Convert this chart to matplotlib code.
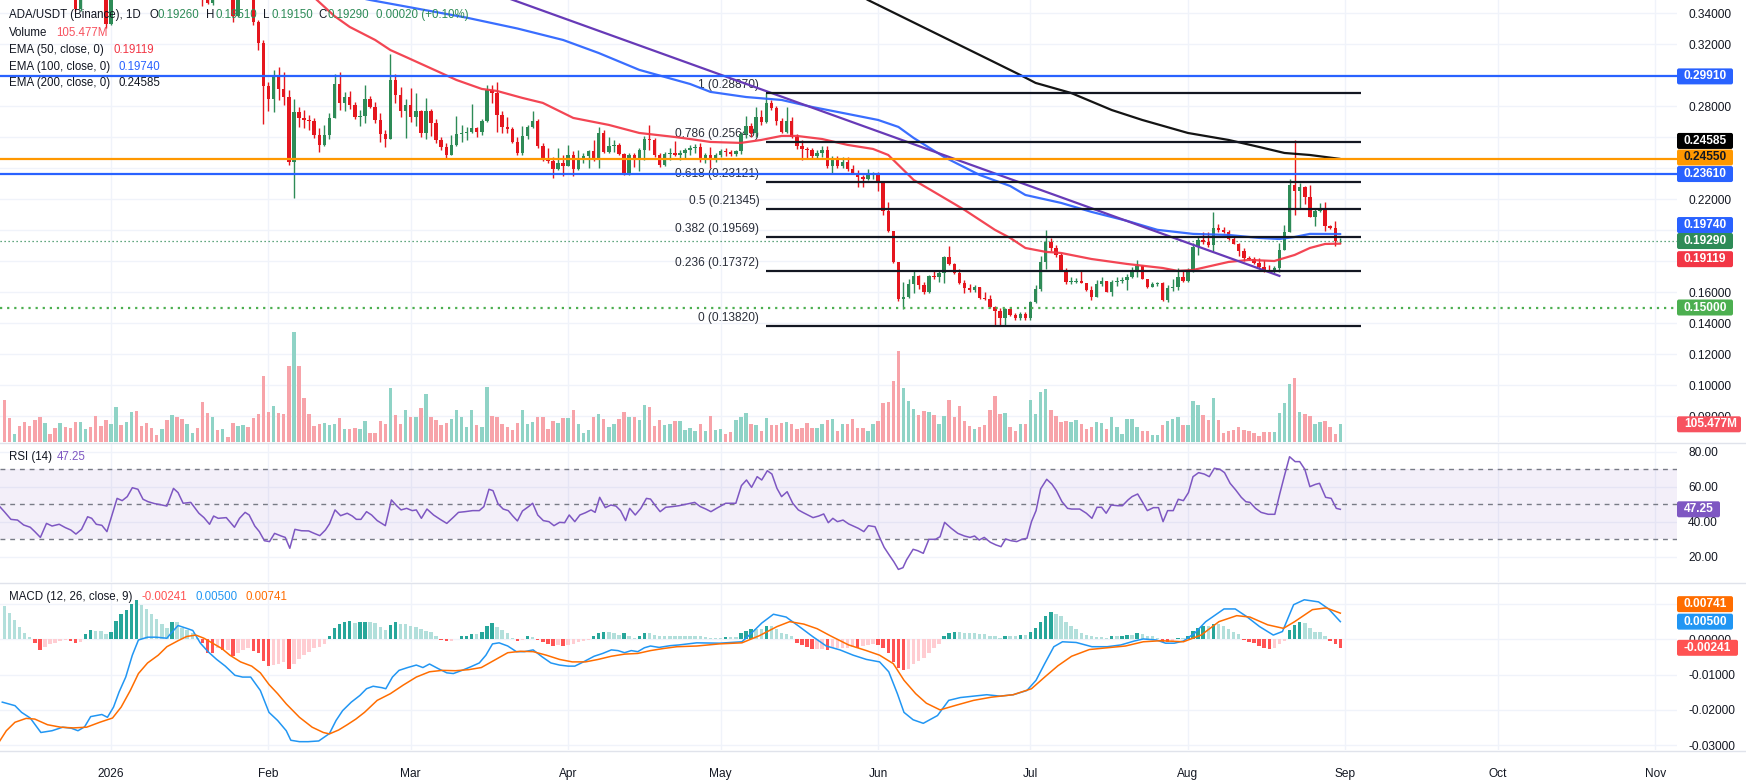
import numpy as np
import pandas as pd
import matplotlib
matplotlib.use("Agg")
import matplotlib.pyplot as plt
from matplotlib.patches import FancyBboxPatch
from matplotlib.transforms import IdentityTransform
from matplotlib.lines import Line2D

plt.rcParams['font.family'] = ['Liberation Sans', 'DejaVu Sans']

# ------------------------------------------------------------------ data
START_DATE = '2025-12-11'          # first daily candle
FIRST_OPEN = 0.398

closes = [
    0.392, 0.385, 0.388, 0.378, 0.376, 0.373, 0.370, 0.362, 0.368, 0.366,
    0.364, 0.367, 0.361, 0.358, 0.3424, 0.352, 0.365, 0.363, 0.358, 0.356,
    0.3329, 0.352, 0.372, 0.370, 0.378, 0.392, 0.390, 0.384, 0.383, 0.381,
    0.380, 0.383, 0.378, 0.398, 0.394, 0.382, 0.383, 0.386, 0.370, 0.362,
    0.3465, 0.366, 0.364, 0.367, 0.362, 0.3381, 0.356, 0.362, 0.358, 0.3342,
    0.3206, 0.2929, 0.2845, 0.2994, 0.2910, 0.2858, 0.2439, 0.2762, 0.2723, 0.2710,
    0.2704, 0.2613, 0.2549, 0.2613, 0.2723, 0.2942, 0.2820, 0.2858, 0.2807, 0.2729,
    0.2736, 0.2845, 0.2794, 0.2710, 0.2620, 0.2587, 0.2968, 0.2871, 0.2768, 0.2807,
    0.2729, 0.2768, 0.2626, 0.2768, 0.2691, 0.2581, 0.2536, 0.2484, 0.2549, 0.2620,
    0.2626, 0.2633, 0.2658, 0.2633, 0.2704, 0.2903, 0.2884, 0.2742, 0.2665, 0.2652,
    0.2568, 0.2497, 0.2607, 0.2665, 0.2704, 0.2542, 0.2452, 0.2446, 0.2394, 0.2433,
    0.2413, 0.2484, 0.2394, 0.2465, 0.2478, 0.2510, 0.2452, 0.2626, 0.2504, 0.2542,
    0.2546, 0.2491, 0.2362, 0.2484, 0.2465, 0.2516, 0.2587, 0.2581, 0.2484, 0.2420,
    0.2491, 0.2497, 0.2484, 0.2497, 0.2516, 0.2529, 0.2536, 0.2465, 0.2484, 0.2452,
    0.2484, 0.2510, 0.2504, 0.2491, 0.2510, 0.2620, 0.2671, 0.2626, 0.2729, 0.2697,
    0.2820, 0.2787, 0.2704, 0.2633, 0.2704, 0.2600, 0.2542, 0.2523, 0.2516, 0.2478,
    0.2497, 0.2516, 0.2413, 0.2459, 0.2413, 0.2439, 0.2394, 0.2368, 0.2342, 0.2329,
    0.2362, 0.2368, 0.2310, 0.2123, 0.1994, 0.1794, 0.1555, 0.1568, 0.1652, 0.1704,
    0.1646, 0.1601, 0.1704, 0.1697, 0.1723, 0.1826, 0.1781, 0.1723, 0.1659, 0.1627,
    0.1613, 0.1633, 0.1562, 0.1555, 0.1504, 0.1478, 0.1433, 0.1491, 0.1452, 0.1433,
    0.1459, 0.1433, 0.1536, 0.1620, 0.1794, 0.1923, 0.1884, 0.1839, 0.1736, 0.1665,
    0.1665, 0.1668, 0.1659, 0.1613, 0.1568, 0.1652, 0.1672, 0.1601, 0.1665, 0.1672,
    0.1678, 0.1697, 0.1742, 0.1768, 0.1684, 0.1633, 0.1652, 0.1659, 0.1549, 0.1627,
    0.1633, 0.1697, 0.1672, 0.1736, 0.1891, 0.1936, 0.1923, 0.1904, 0.2013, 0.2001,
    0.1988, 0.1942, 0.1910, 0.1865, 0.1820, 0.1813, 0.1788, 0.1762, 0.1742, 0.1736,
    0.1755, 0.1872, 0.1988, 0.2291, 0.2252, 0.2278, 0.2213, 0.2084, 0.2123, 0.2142,
    0.2026, 0.2013, 0.1927, 0.1929,
]

highs = [
    0.402, 0.395, 0.392, 0.386, 0.382, 0.379, 0.376, 0.372, 0.371, 0.371,
    0.369, 0.370, 0.366, 0.363, 0.360, 0.355, 0.368, 0.368, 0.365, 0.361,
    0.358, 0.355, 0.376, 0.378, 0.382, 0.398, 0.399, 0.393, 0.388, 0.387,
    0.384, 0.387, 0.383, 0.403, 0.401, 0.396, 0.387, 0.389, 0.388, 0.372,
    0.364, 0.369, 0.370, 0.370, 0.367, 0.364, 0.359, 0.366, 0.365, 0.362,
    0.3355, 0.3226, 0.2955, 0.3032, 0.3052, 0.3020, 0.2903, 0.2845, 0.2794, 0.2774,
    0.2742, 0.2723, 0.2658, 0.2678, 0.2755, 0.3007, 0.3020, 0.2891, 0.2897, 0.2826,
    0.2774, 0.2936, 0.2865, 0.2826, 0.2755, 0.2645, 0.3136, 0.3007, 0.2923, 0.2845,
    0.2916, 0.2884, 0.2774, 0.2852, 0.2781, 0.2716, 0.2600, 0.2562, 0.2613, 0.2736,
    0.2678, 0.2665, 0.2813, 0.2665, 0.2716, 0.2936, 0.2936, 0.2955, 0.2768, 0.2729,
    0.2665, 0.2600, 0.2671, 0.2678, 0.2768, 0.2716, 0.2562, 0.2529, 0.2471, 0.2529,
    0.2484, 0.2549, 0.2510, 0.2516, 0.2497, 0.2516, 0.2581, 0.2665, 0.2645, 0.2600,
    0.2581, 0.2562, 0.2497, 0.2497, 0.2497, 0.2529, 0.2607, 0.2678, 0.2594, 0.2497,
    0.2504, 0.2529, 0.2575, 0.2516, 0.2529, 0.2549, 0.2552, 0.2562, 0.2495, 0.2536,
    0.2495, 0.2520, 0.2529, 0.2516, 0.2516, 0.2633, 0.2736, 0.2690, 0.2794, 0.2774,
    0.2887, 0.2839, 0.2800, 0.2723, 0.2794, 0.2729, 0.2620, 0.2581, 0.2536, 0.2529,
    0.2516, 0.2542, 0.2542, 0.2478, 0.2478, 0.2471, 0.2471, 0.2420, 0.2387, 0.2355,
    0.2394, 0.2375, 0.2375, 0.2310, 0.2181, 0.1994, 0.1794, 0.1665, 0.1684, 0.1743,
    0.1710, 0.1665, 0.1710, 0.1743, 0.1736, 0.1833, 0.1897, 0.1790, 0.1749, 0.1678,
    0.1652, 0.1646, 0.1633, 0.1601, 0.1581, 0.1510, 0.1497, 0.1497, 0.1504, 0.1465,
    0.1472, 0.1468, 0.1543, 0.1646, 0.1833, 0.2000, 0.1949, 0.1904, 0.1852, 0.1755,
    0.1697, 0.1690, 0.1742, 0.1659, 0.1639, 0.1678, 0.1697, 0.1659, 0.1678, 0.1697,
    0.1697, 0.1717, 0.1762, 0.1807, 0.1775, 0.1684, 0.1665, 0.1665, 0.1665, 0.1646,
    0.1684, 0.1755, 0.1742, 0.1755, 0.1917, 0.1955, 0.1988, 0.1988, 0.2117, 0.2039,
    0.2020, 0.2001, 0.1955, 0.1917, 0.1884, 0.1833, 0.1826, 0.1820, 0.1807, 0.1775,
    0.1768, 0.1917, 0.2033, 0.2329, 0.2581, 0.2304, 0.2284, 0.2291, 0.2136, 0.2175,
    0.2181, 0.2033, 0.2059, 0.1951,
]

lows = [
    0.388, 0.382, 0.378, 0.375, 0.371, 0.369, 0.366, 0.358, 0.360, 0.362,
    0.362, 0.362, 0.357, 0.354, 0.3410, 0.3415, 0.351, 0.359, 0.355, 0.352,
    0.3303, 0.3320, 0.350, 0.366, 0.368, 0.376, 0.385, 0.380, 0.379, 0.377,
    0.376, 0.375, 0.372, 0.376, 0.389, 0.379, 0.378, 0.380, 0.366, 0.3445,
    0.3460, 0.3450, 0.360, 0.359, 0.357, 0.3340, 0.3375, 0.353, 0.352, 0.3320,
    0.3162, 0.2684, 0.2768, 0.2762, 0.2839, 0.2807, 0.2420, 0.2207, 0.2665, 0.2658,
    0.2645, 0.2594, 0.2504, 0.2542, 0.2587, 0.2723, 0.2774, 0.2768, 0.2781, 0.2716,
    0.2671, 0.2691, 0.2787, 0.2691, 0.2568, 0.2536, 0.2587, 0.2820, 0.2729, 0.2594,
    0.2697, 0.2671, 0.2600, 0.2587, 0.2607, 0.2562, 0.2516, 0.2465, 0.2484, 0.2542,
    0.2568, 0.2581, 0.2626, 0.2600, 0.2613, 0.2697, 0.2820, 0.2633, 0.2626, 0.2626,
    0.2562, 0.2484, 0.2484, 0.2587, 0.2658, 0.2529, 0.2446, 0.2433, 0.2336, 0.2387,
    0.2349, 0.2413, 0.2349, 0.2387, 0.2433, 0.2400, 0.2446, 0.2400, 0.2497, 0.2497,
    0.2504, 0.2484, 0.2355, 0.2355, 0.2407, 0.2381, 0.2452, 0.2516, 0.2471, 0.2407,
    0.2413, 0.2452, 0.2478, 0.2452, 0.2465, 0.2484, 0.2497, 0.2439, 0.2430, 0.2400,
    0.2440, 0.2470, 0.2478, 0.2478, 0.2478, 0.2490, 0.2594, 0.2600, 0.2600, 0.2680,
    0.2691, 0.2774, 0.2678, 0.2626, 0.2626, 0.2594, 0.2523, 0.2452, 0.2458, 0.2465,
    0.2465, 0.2471, 0.2400, 0.2362, 0.2400, 0.2400, 0.2381, 0.2362, 0.2278, 0.2278,
    0.2323, 0.2329, 0.2252, 0.2097, 0.1990, 0.1790, 0.1543, 0.1491, 0.1560, 0.1594,
    0.1620, 0.1588, 0.1595, 0.1684, 0.1665, 0.1659, 0.1775, 0.1717, 0.1652, 0.1594,
    0.1601, 0.1601, 0.1555, 0.1549, 0.1497, 0.1388, 0.1388, 0.1385, 0.1446, 0.1420,
    0.1420, 0.1420, 0.1420, 0.1530, 0.1607, 0.1749, 0.1865, 0.1826, 0.1736, 0.1652,
    0.1652, 0.1659, 0.1657, 0.1607, 0.1549, 0.1568, 0.1639, 0.1601, 0.1575, 0.1639,
    0.1659, 0.1613, 0.1691, 0.1697, 0.1684, 0.1627, 0.1633, 0.1639, 0.1543, 0.1536,
    0.1607, 0.1613, 0.1665, 0.1665, 0.1730, 0.1839, 0.1910, 0.1891, 0.1865, 0.1988,
    0.1981, 0.1936, 0.1910, 0.1833, 0.1801, 0.1807, 0.1781, 0.1755, 0.1730, 0.1730,
    0.1723, 0.1730, 0.1872, 0.1988, 0.2097, 0.2136, 0.2168, 0.2084, 0.2026, 0.2117,
    0.1994, 0.2007, 0.1895, 0.1915,
]

volumes_m = [
    249, 143, 46, 94, 117, 94, 129, 147, 111, 46,
    82, 111, 88, 82, 117, 117, 76, 88, 153, 94,
    129, 105, 207, 100, 117, 177, 183, 94, 111, 82,
    40, 76, 129, 159, 147, 135, 105, 52, 82, 237,
    171, 147, 70, 76, 28, 111, 94, 100, 88, 141,
    165, 392, 177, 213, 171, 165, 452, 655, 452, 261,
    165, 94, 105, 111, 100, 105, 141, 76, 76, 82,
    76, 123, 52, 52, 123, 105, 320, 159, 105, 189,
    147, 147, 201, 285, 147, 129, 100, 111, 135, 189,
    147, 88, 189, 100, 88, 326, 153, 147, 105, 88,
    70, 111, 189, 105, 117, 147, 147, 76, 123, 111,
    141, 141, 189, 105, 52, 70, 147, 165, 135, 88,
    105, 135, 177, 147, 147, 129, 219, 207, 94, 129,
    100, 105, 123, 123, 70, 82, 64, 105, 64, 153,
    70, 76, 46, 58, 129, 147, 171, 105, 100, 64,
    141, 100, 100, 111, 117, 105, 76, 82, 111, 82,
    82, 105, 129, 135, 64, 105, 105, 135, 82, 82,
    64, 105, 123, 231, 237, 362, 541, 320, 243, 195,
    159, 183, 177, 159, 105, 153, 249, 147, 213, 123,
    94, 76, 88, 100, 189, 273, 165, 171, 88, 64,
    105, 105, 249, 165, 297, 314, 189, 153, 117, 123,
    117, 129, 105, 76, 88, 117, 111, 76, 147, 88,
    46, 135, 135, 88, 64, 64, 40, 40, 100, 123,
    135, 147, 100, 100, 243, 219, 159, 129, 261, 129,
    52, 64, 70, 88, 70, 64, 52, 34, 58, 58,
    58, 171, 231, 344, 380, 177, 165, 153, 105, 117,
    123, 90, 46, 105.477,
]

# MACD histogram, in units of 1e-4
macd_hist_e4 = [
    95, 74, 55, 36, 19, 6, -11, -30, -21, -14,
    -10, -5, -2, -5, -10, -7, 15, 27, 24, 24,
    15, 22, 53, 71, 84, 101, 112, 98, 86, 71,
    57, 44, 33, 50, 50, 31, 27, 17, 3, -11,
    -38, -40, -26, -30, -30, -46, -40, -30, -26, -32,
    -40, -61, -76, -73, -69, -64, -83, -69, -56, -45,
    -35, -26, -23, -13, 8, 31, 44, 50, 52, 46,
    48, 50, 50, 46, 36, 27, 41, 48, 44, 43,
    38, 34, 29, 24, 20, 8, -2, -5, -4, 1,
    8, 10, 15, 15, 20, 39, 46, 36, 27, 17,
    3, -4, -2, 8, 6, -2, -7, -13, -19, -16,
    -19, -17, -14, -8, -5, -1, 8, 19, 20, 20,
    17, 12, 19, 8, 5, 10, 17, 17, 12, 10,
    10, 10, 10, 10, 10, 10, 10, 10, 6, 4,
    4, 4, 7, 7, 7, 17, 24, 29, 29, 29,
    38, 38, 29, 17, 15, 8, -10, -16, -21, -28,
    -28, -27, -30, -26, -26, -26, -26, -21, -26, -19,
    -17, -14, -16, -26, -40, -64, -80, -88, -83, -71,
    -62, -54, -40, -26, -14, 10, 19, 22, 20, 17,
    17, 17, 15, 15, 10, 10, 4, 8, 8, 8,
    12, 12, 20, 33, 50, 67, 76, 72, 65, 50,
    38, 29, 19, 12, 8, 6, 6, 4, 8, 8,
    10, 11, 11, 19, 15, 10, 8, 4, -7, -8,
    -5, 4, 4, 10, 24, 31, 38, 38, 43, 43,
    38, 29, 22, 14, -2, -8, -11, -18, -24, -27,
    -26, -14, -5, 27, 41, 48, 46, 31, 22, 22,
    8, -4, -14, -24.1,
]

# (day offset from 2026-01-01, value)
ema50_pts = [(30, 0.375), (36, 0.362), (40, 0.350), (44, 0.338), (47, 0.331), (52, 0.3226),
             (55, 0.3161), (58, 0.3117), (65, 0.3013), (68, 0.2968), (73, 0.2910), (76, 0.2897),
             (81, 0.2852), (85, 0.2820), (91, 0.2723), (98, 0.2678), (104, 0.2626), (111, 0.2600),
             (114, 0.2587), (118, 0.2568), (124, 0.2562), (128, 0.2581), (132, 0.2607), (135, 0.2607),
             (140, 0.2587), (145, 0.2549), (150, 0.2523), (153, 0.2484), (158, 0.2323), (162, 0.2246),
             (168, 0.2130), (174, 0.2001), (177, 0.1949), (180, 0.1884), (184, 0.1859), (187, 0.1852),
             (193, 0.1813), (200, 0.1781), (207, 0.1755), (210, 0.1736), (213, 0.1742), (220, 0.1794),
             (224, 0.1807), (229, 0.1800), (233, 0.1839), (236, 0.1884), (239, 0.1910), (242, 0.19119)]
ema100_pts = [(40, 0.356), (51, 0.3484), (60, 0.343), (70, 0.3370), (80, 0.3300), (89, 0.3226),
              (96, 0.3142), (104, 0.3033), (114, 0.2942), (118, 0.2891), (125, 0.2858), (132, 0.2839),
              (138, 0.2794), (145, 0.2749), (151, 0.2710), (155, 0.2665), (158, 0.2594), (164, 0.2471),
              (171, 0.2355), (177, 0.2284), (180, 0.2226), (187, 0.2175), (193, 0.2117), (200, 0.2059),
              (206, 0.2001), (213, 0.1975), (220, 0.1968), (226, 0.1949), (230, 0.1942), (233, 0.1955),
              (236, 0.1975), (242, 0.1974)]
ema200_pts = [(130, 0.385), (140, 0.366), (149, 0.3484), (173, 0.3097), (179, 0.3000), (182, 0.2949),
              (189, 0.2884), (197, 0.2774), (203, 0.2710), (212, 0.2626), (220, 0.2581), (226, 0.2536),
              (231, 0.2497), (236, 0.2484), (242, 0.24585)]
trendline_pts = [(60, 0.3710), (230, 0.1704)]

h_levels = [0.29910, 0.24550, 0.23610]
h_colors = ['#2962ff', '#ff9800', '#2962ff']
support_level = 0.15000
last_price = 0.19290

fib_ratios = ['1', '0.786', '0.618', '0.5', '0.382', '0.236', '0']
fib_values = [0.28870, 0.25649, 0.23121, 0.21345, 0.19569, 0.17372, 0.13820]
fib_span = (129, 246)

rsi_pts = [(-21.9, 48.8), (-21, 45.9), (-19.7, 41.5), (-18.4, 41.1), (-17.2, 38.3), (-15.9, 37),
           (-15, 34.5), (-13.9, 31.2), (-12.7, 39.2), (-11.6, 37.7), (-10.2, 38.7), (-9, 36.8),
           (-7.9, 35.4), (-6.9, 33.1), (-5.8, 35.8), (-4.6, 43), (-3.8, 42.1), (-2.9, 38.7),
           (-1.8, 38.1), (-0.8, 34.5), (0.2, 44), (1.2, 53.5), (2.2, 52.2), (3.2, 54.5),
           (4.2, 59.6), (5.3, 58.7), (6.3, 53), (7.3, 51.6), (8.6, 50.5), (9.7, 49.9), (11, 49.1),
           (12.3, 59.2), (13.2, 56.8), (14.2, 50.7), (15.7, 51.2), (17.3, 45), (18.3, 42.5),
           (19.4, 38.7), (20.2, 43.4), (21.1, 42.1), (22.7, 42.5), (24.3, 37), (25.3, 42.1),
           (26.4, 45.5), (27.2, 44), (28.3, 37.7), (29.2, 34.5), (30.2, 29.3), (31.2, 28.8),
           (32.2, 33.5), (33.5, 32), (34.3, 31.2), (35.2, 25), (36.2, 35.8), (37.5, 35),
           (38.9, 34.9), (40, 33.5), (41.1, 32.2), (42.2, 35.4), (43, 38.9), (44.1, 46.9),
           (45.2, 43.6), (46.5, 45), (47.5, 43.4), (48.3, 41.5), (49.2, 41.5), (50.3, 45.9),
           (51.3, 44), (52.4, 40.8), (54, 37.9), (55.2, 52.6), (56.3, 49.1), (57.1, 46.9),
           (58.2, 47.8), (59.3, 46.5), (60.1, 46.9), (61.1, 42.1), (62.2, 47.4), (63.5, 44),
           (64.8, 41.5), (66.1, 39.2), (67.4, 42.7), (68.4, 45.5), (69.7, 45.9), (71.2, 46.5),
           (72.5, 46.5), (73.4, 48.8), (74.4, 58.7), (75.2, 57.9), (76.2, 50.3), (77.2, 47.4),
           (78.2, 46.5), (79.1, 43.4), (80, 40.6), (81, 46.3), (82.2, 48.8), (83, 50.7), (84, 44),
           (85.1, 40.8), (86.2, 40.2), (87.2, 37.9), (88.3, 39.8), (89.3, 39.6), (90.2, 44),
           (91.3, 40.2), (92.3, 44), (93.4, 45.3), (94.5, 46.9), (95.3, 45.5), (96.2, 54.1),
           (97.3, 48.2), (98.4, 49.7), (99.4, 49.1), (100.3, 46.5), (101.3, 40.8), (102.1, 47.8),
           (103.2, 44), (104.3, 47.8), (105.4, 53.5), (106.2, 53.1), (107.3, 48.8), (108.1, 45.9),
           (109.2, 48.4), (110.5, 48.8), (111.8, 49.3), (113.1, 50.1), (114.9, 51.2), (116, 48.8),
           (117.1, 47.4), (118.1, 45.9), (119.2, 47.8), (121, 50.7), (123, 50.7), (124.1, 60.8),
           (125.1, 64), (126.1, 59.8), (127.2, 65.9), (128.1, 64), (129.2, 69.3), (130.1, 67.4),
           (131.1, 59.2), (132, 54.5), (133.1, 57.3), (134.2, 50.7), (135.3, 46.9), (136.3, 45.3),
           (138.2, 42.5), (139.3, 43.4), (140.3, 44.6), (141.2, 39.6), (142.1, 42.1), (143, 40.2),
           (144.1, 41.1), (145.2, 38.9), (147.1, 36.4), (148.2, 34.5), (149.1, 37.9), (150.4, 37.3),
           (151.3, 31.2), (152.2, 25.5), (153.2, 21.1), (154.1, 17.3), (155, 12.9), (155.9, 13.9),
           (156.6, 18.3), (157.9, 24.4), (158.8, 23.6), (159.9, 22.1), (161, 30.1), (162.3, 30.1),
           (163.2, 31.6), (164.1, 39.8), (165.4, 36.4), (166.7, 33.5), (168, 32), (169.1, 31.2),
           (170, 32), (170.9, 29.7), (171.9, 31.2), (173.1, 28.4), (174.2, 26.9), (175.2, 25.9),
           (176.1, 30.3), (177.2, 29.3), (178.3, 28.8), (179.3, 30.1), (180.3, 30.7), (181.2, 40.2),
           (182.1, 46.5), (183, 58.9), (184.2, 64.4), (185.2, 61.7), (186.1, 57.9), (187.2, 51.6),
           (188.3, 47.8), (189.1, 47.4), (190.7, 47.4), (192, 45), (193.1, 42.1), (194.1, 48.4),
           (195, 48.4), (195.9, 45), (196.9, 49.7), (198.2, 49.3), (199.1, 49.3), (200.2, 52.6),
           (201, 54.5), (202.1, 56), (203, 51.6), (204, 46.5), (205.2, 48.2), (206.2, 48.2),
           (207.1, 40.2), (208, 46.5), (209.1, 46.5), (210.1, 53), (211.1, 52.2), (212.1, 56.8),
           (213, 65.9), (214.1, 68.2), (215.2, 67.4), (216.2, 65.9), (217.2, 70.7), (218.3, 70.1),
           (219.2, 68.2), (220.3, 62.1), (221.4, 58.3), (222.5, 54.1), (223.4, 51.6), (224.2, 51.2),
           (225.3, 47.8), (226.4, 45.5), (227.8, 44.4), (229.1, 44.4), (230.1, 56.4), (231, 66.5),
           (232, 77.3), (233.1, 74.5), (234, 74.5), (235, 70.1), (236, 60.2), (237.1, 61.5),
           (237.9, 62.1), (239.1, 54.1), (240.2, 53.5), (241.2, 47.8), (242, 47.25)]

# MACD and signal lines, values in units of 1e-4
macd_pts = [(-21.4, -178), (-18.9, -188), (-17.6, -207), (-15.9, -223), (-13.8, -264), (-11.6, -259),
            (-9.5, -249), (-7.8, -252), (-6.5, -259), (-5.2, -248), (-4, -219), (-1.8, -213),
            (-0.7, -221), (0.5, -192), (1.6, -149), (2.9, -107), (4.2, -45), (5.4, -2), (7.2, 6),
            (8.9, 6), (11, 3), (11.8, 17), (13.2, 39), (14.9, 31), (16.1, 25), (17.6, -11),
            (19.1, -35), (20.8, -57), (22.5, -76), (24.4, -102), (25.9, -107), (27.5, -107),
            (29.4, -145), (31.1, -207), (32.8, -230), (34.5, -259), (35.4, -286), (37.1, -290),
            (38.8, -290), (40.9, -288), (43, -267), (44.3, -230), (45.6, -202), (47.3, -178),
            (49, -159), (50.3, -140), (51.6, -133), (53.3, -137), (54.1, -140), (55.4, -107),
            (56.7, -88), (58.4, -80), (60.1, -73), (61.4, -80), (62.7, -70), (64.4, -83),
            (66.1, -95), (67.4, -97), (69.1, -88), (70.8, -78), (72.5, -67), (73.8, -45),
            (75.1, -13), (76.4, -10), (78.1, -19), (79.8, -35), (81.4, -35), (83.1, -30),
            (84.9, -50), (86.6, -67), (88.3, -73), (90, -76), (91.3, -76), (93, -64), (95.1, -48),
            (96.8, -40), (98.5, -30), (99.8, -32), (101.1, -38), (102.4, -32), (103.7, -35),
            (105, -24), (106.2, -19), (107.9, -23), (110.1, -18), (111.8, -16), (115.3, -10),
            (119.8, -11), (124.2, -7), (126.2, 19), (128.1, 46), (130.4, 71), (132.9, 63),
            (135.5, 36), (138.1, 8), (140.8, -19), (143.5, -30), (146.1, -45), (148.7, -57),
            (151.3, -64), (153.1, -92), (154.8, -154), (156.1, -207), (157.9, -228), (159.9, -238),
            (162.7, -216), (164.9, -173), (167.2, -165), (169.8, -161), (172.4, -157), (175, -161),
            (177.6, -157), (180.3, -145), (182.1, -116), (183.8, -69), (185.6, -21), (187.3, -7),
            (190, -9), (193.1, -21), (196.1, -21), (198.8, -16), (201.4, -5), (203.2, 1),
            (205.8, -2), (207.6, -11), (209.3, -11), (211.1, -5), (213.3, 17), (215.5, 50),
            (219.1, 86), (221.3, 86), (223.5, 65), (226.1, 36), (228.8, 12), (230.6, 22),
            (232.8, 98), (234.9, 112), (237.7, 106), (239.7, 86), (242, 50)]
signal_pts = [(-21.9, -288), (-20.6, -259), (-18.9, -235), (-16.7, -224), (-15, -226), (-12.5, -242),
              (-9.9, -249), (-7.4, -251), (-4.8, -249), (-2.2, -235), (0.3, -223), (2, -192),
              (3.8, -145), (5.4, -97), (7.2, -67), (9.3, -45), (11, -21), (13.2, -4), (14.9, 8),
              (16.7, 12), (18.3, 3), (20, -11), (21.8, -26), (23.4, -45), (25.5, -64), (27.7, -76),
              (29.4, -95), (31.1, -128), (32.8, -154), (34.5, -183), (37.1, -221), (39.6, -249),
              (41.8, -264), (43, -268), (44.8, -257), (46.5, -242), (48.2, -226), (49.9, -207),
              (52.4, -173), (55, -154), (57.5, -130), (60.1, -107), (62.7, -92), (65.2, -88),
              (67.8, -89), (70.4, -86), (72.9, -80), (75.5, -59), (78.1, -38), (80.6, -34),
              (83.1, -35), (85.7, -45), (88.3, -57), (90.8, -64), (93.4, -64), (95.9, -57),
              (98.5, -48), (101.1, -42), (103.7, -40), (106.2, -32), (108.8, -26), (111.4, -21),
              (115.3, -19), (119.8, -13), (124.2, -10), (127.6, 10), (131.1, 36), (133.6, 50),
              (136.4, 43), (139, 30), (141.6, 10), (145.2, -16), (148.7, -32), (151.3, -45),
              (154, -69), (156.1, -116), (158.4, -154), (160.5, -181), (163.2, -200), (166.3, -187),
              (169.8, -173), (173.3, -164), (177.6, -157), (181.2, -140), (183.8, -107),
              (186.4, -75), (189.1, -48), (192.6, -29), (196.1, -24), (199.7, -19), (203.2, -7),
              (206.7, -4), (211.1, -7), (214.6, 12), (218.1, 50), (221.6, 67), (224.2, 63),
              (227.7, 41), (230.8, 31), (233, 50), (236.5, 84), (239.2, 89), (242, 74.1)]

month_labels = ['2026', 'Feb', 'Mar', 'Apr', 'May', 'Jun', 'Jul', 'Aug', 'Sep', 'Oct', 'Nov']

# ------------------------------------------------------------------ prep
n = len(closes)
dates = pd.date_range(START_DATE, periods=n, freq='D')
jan1 = pd.Timestamp('2026-01-01')
days = np.asarray((dates - jan1).days, dtype=float)
c = np.array(closes)
o = np.concatenate([[FIRST_OPEN], c[:-1]])
hi = np.maximum(np.array(highs), np.maximum(o, c))
lo = np.minimum(np.array(lows), np.minimum(o, c))
vol = np.array(volumes_m)
hist = np.array(macd_hist_e4) * 1e-4
month_days = [(pd.Timestamp(2026, m, 1) - jan1).days for m in range(1, 12)]

UP, DN = '#2e8b57', '#e5161e'
up = c >= o
ccol = np.where(up, UP, DN)
vcol = np.where(up, '#8fd3c6', '#f7a3a9')

W, H = 1746, 782
fig = plt.figure(figsize=(W / 100, H / 100), dpi=100, facecolor='white')


def fax(x0, y0, x1, y1):
    return fig.add_axes([x0 / W, 1 - y1 / H, (x1 - x0) / W, (y1 - y0) / H])


PR = 1677
ax = fax(0, 0, PR, 442)
ax_r = fax(0, 443, PR, 582)
ax_m = fax(0, 583, PR, 750)

# volume overlay shares the price pane
axv = ax.twinx()

XL = (-21.85, 308.27)
GRID = '#f0f3fa'
TXT = '#131722'
for a in (ax, ax_r, ax_m):
    a.set_xlim(*XL)
    for s in a.spines.values():
        s.set_visible(False)
    a.set_xticks(month_days)
    a.yaxis.tick_right()
    a.yaxis.set_label_position('right')
    a.tick_params(axis='both', length=0, labelsize=8.6, labelcolor=TXT, pad=8,
                  labelleft=False, labelright=True)
    a.grid(True, color=GRID, lw=1)
    a.set_axisbelow(True)
ax.tick_params(axis='x', labelbottom=False)
ax_r.tick_params(axis='x', labelbottom=False)
ax_m.set_xticklabels(month_labels)
ax_m.tick_params(axis='x', pad=13)

# ---- main pane
ax.set_ylim(0.06323, 0.34839)
pticks = [round(0.08 + 0.02 * i, 2) for i in range(14)]
ax.set_yticks(pticks)
hidden = {0.30, 0.26, 0.24, 0.20, 0.18}
ax.set_yticklabels(['' if t in hidden else f'{t:.5f}' for t in pticks])

ax.vlines(days, lo, hi, colors=ccol, lw=1, zorder=4)
body_b = np.minimum(o, c)
body_h = np.maximum(np.abs(c - o), 0.0004)
ax.bar(days, body_h, bottom=body_b, width=0.68, color=ccol, linewidth=0, zorder=4.5)

for lvl, col in zip(h_levels, h_colors):
    ax.axhline(lvl, color=col, lw=1.6, zorder=6)
ax.axhline(support_level, color='#4caf50', lw=1.6, ls=(0, (1, 2.2)), zorder=6)
ax.axhline(last_price, color='#2e8b57', lw=0.9, ls=(0, (1, 2.2)), zorder=3)

for r, v in zip(fib_ratios, fib_values):
    ax.hlines(v, fib_span[0], fib_span[1], color=TXT, lw=1.6, zorder=6)
    ax.annotate(f'{r} ({v:.5f})', xy=(fib_span[0], v), xytext=(-7, 2),
                textcoords='offset pixels', ha='right', va='bottom',
                fontsize=8.6, color='#2a2e39', zorder=1)

for pts, col in ((ema200_pts, '#000000'), (ema100_pts, '#2962ff'), (ema50_pts, '#f23645')):
    xs, ys = zip(*pts)
    ax.plot(xs, ys, color=col, lw=1.6, zorder=5, solid_capstyle='round', alpha=0.92)
tx, ty = zip(*trendline_pts)
ax.plot(tx, ty, color='#673ab7', lw=1.6, zorder=5)

axv.set_xlim(*XL)
axv.set_ylim(0, 2634)
axv.set_yticks([])
axv.tick_params(length=0, labelleft=False, labelright=False, labelbottom=False)
for s in axv.spines.values():
    s.set_visible(False)
axv.bar(days, vol, width=0.68, color=vcol, linewidth=0)

# ---- RSI pane
ax_r.set_ylim(5.71, 85.14)
ax_r.set_yticks([20, 40, 60, 80])
ax_r.set_yticklabels(['20.00', '40.00', '60.00', '80.00'])
ax_r.axhspan(30, 70, color='#7e57c2', alpha=0.09, lw=0, zorder=0.6)
for lv in (70, 50, 30):
    ax_r.axhline(lv, color='#787b86', lw=1, ls=(0, (3.5, 3.5)), zorder=1)
rx, ry = zip(*rsi_pts)
ax_r.plot(rx, ry, color='#7e57c2', lw=1.1, zorder=3)

# ---- MACD pane
ax_m.set_ylim(-0.03136, 0.01595)
ax_m.set_yticks([0.01, 0.0, -0.01, -0.02, -0.03])
ax_m.set_yticklabels(['', '0.00000', '-0.01000', '-0.02000', '-0.03000'])
prev = np.concatenate([[hist[0]], hist[:-1]])
hcol = np.where(hist >= 0, np.where(hist > prev, '#26a69a', '#b2dfdb'),
                np.where(hist < prev, '#ff5252', '#ffcdd2'))
ax_m.bar(days, hist, width=0.68, color=hcol, linewidth=0, zorder=2)
mx, my = zip(*macd_pts)
ax_m.plot(mx, np.array(my) * 1e-4, color='#2196f3', lw=1.1, zorder=3)
sx, sy = zip(*signal_pts)
ax_m.plot(sx, np.array(sy) * 1e-4, color='#ff6d00', lw=1.1, zorder=3)

# ---- pane separators
for yy in (442.5, 582.5, 750.5):
    fig.add_artist(Line2D([0, 1], [1 - yy / H] * 2, transform=fig.transFigure,
                          color='#e0e3eb', lw=1))


# ---- price badges on the scale
def badge(a, val, text, bg, fg='white', shift_px=0, width=56):
    y = a.transData.transform((0, val))[1] + shift_px
    x0 = PR
    fig.add_artist(FancyBboxPatch((x0, y - 8), width, 16,
                                  boxstyle='round,pad=0,rounding_size=2',
                                  transform=IdentityTransform(), fc=bg, ec='none', zorder=10))
    fig.text(x0 + 7, y, text, transform=IdentityTransform(), color=fg, fontsize=8.6,
             fontweight='bold', va='center', ha='left', zorder=11)


badge(ax, 0.29910, '0.29910', '#2962ff')
badge(ax, 0.24585, '0.24585', '#000000', shift_px=18)
badge(ax, 0.24550, '0.24550', '#ff9800', fg=TXT, shift_px=2)
badge(ax, 0.23610, '0.23610', '#2962ff')
badge(ax, 0.19740, '0.19740', '#2962ff', shift_px=9)
badge(ax, 0.19290, '0.19290', '#2e8b57')
badge(ax, 0.19119, '0.19119', '#f23645', shift_px=-15.5)
badge(ax, 0.15000, '0.15000', '#4caf50')
badge(axv, 105.477, '105.477M', '#f7525f', width=64)
badge(ax_r, 47.25, '47.25', '#7e57c2', width=43)
badge(ax_m, 0.00741, '0.00741', '#ff6d00', shift_px=9)
badge(ax_m, 0.00500, '0.00500', '#2196f3')
badge(ax_m, -0.00241, '-0.00241', '#ff5252', width=61)


# ---- legends
def ftxt(x, y, s, color=TXT, size=8.3):
    fig.text(x / W, 1 - y / H, s, color=color, fontsize=size, va='center', ha='left')


GV = '#2e8b57'
ftxt(9, 15, 'ADA/USDT (Binance), 1D')
for lx, letter, val in ((149, 'O', '0.19260'), (206, 'H', '0.19510'), (263, 'L', '0.19150'),
                        (318, 'C', '0.19290')):
    ftxt(lx, 15, letter)
    ftxt(lx + 9, 15, val, GV)
ftxt(376, 15, '0.00020 (+0.10%)', GV)
ftxt(9, 33, 'Volume')
ftxt(56, 33, '105.477M', '#f7525f')
ftxt(9, 50, 'EMA (50, close, 0)')
ftxt(113, 50, '0.19119', '#f23645')
ftxt(9, 67, 'EMA (100, close, 0)')
ftxt(119, 67, '0.19740', '#2962ff')
ftxt(9, 83, 'EMA (200, close, 0)')
ftxt(119, 83, '0.24585', TXT)

ftxt(9, 457, 'RSI (14)')
ftxt(57, 457, '47.25', '#7e57c2')
ftxt(9, 597, 'MACD (12, 26, close, 9)')
ftxt(142, 597, '-0.00241', '#ff5252')
ftxt(196, 597, '0.00500', '#2196f3')
ftxt(246, 597, '0.00741', '#ff6d00')

fig.savefig('out.png', dpi=100, facecolor='white')
